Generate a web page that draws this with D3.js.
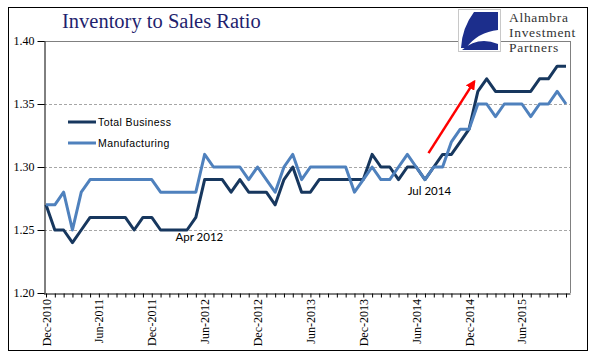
<!DOCTYPE html>
<html><head><meta charset="utf-8">
<script src="https://cdn.jsdelivr.net/npm/d3@7"></script>
<style>body{margin:0;background:#fff}svg{display:block}</style>
</head><body>
<svg id="chart" width="596" height="358"></svg>
<script>
const months = ["Dec-2010","Jan-2011","Feb-2011","Mar-2011","Apr-2011","May-2011","Jun-2011","Jul-2011","Aug-2011","Sep-2011","Oct-2011","Nov-2011",
"Dec-2011","Jan-2012","Feb-2012","Mar-2012","Apr-2012","May-2012","Jun-2012","Jul-2012","Aug-2012","Sep-2012","Oct-2012","Nov-2012",
"Dec-2012","Jan-2013","Feb-2013","Mar-2013","Apr-2013","May-2013","Jun-2013","Jul-2013","Aug-2013","Sep-2013","Oct-2013","Nov-2013",
"Dec-2013","Jan-2014","Feb-2014","Mar-2014","Apr-2014","May-2014","Jun-2014","Jul-2014","Aug-2014","Sep-2014","Oct-2014","Nov-2014",
"Dec-2014","Jan-2015","Feb-2015","Mar-2015","Apr-2015","May-2015","Jun-2015","Jul-2015","Aug-2015","Sep-2015","Oct-2015","Nov-2015"];
const totalBusiness = [1.27,1.25,1.25,1.24,1.25,1.26,1.26,1.26,1.26,1.26,1.25,1.26,
1.26,1.25,1.25,1.25,1.25,1.26,1.29,1.29,1.29,1.28,1.29,1.28,
1.28,1.28,1.27,1.29,1.30,1.28,1.28,1.29,1.29,1.29,1.29,1.29,
1.29,1.31,1.30,1.30,1.29,1.30,1.30,1.29,1.30,1.31,1.31,1.32,
1.33,1.36,1.37,1.36,1.36,1.36,1.36,1.36,1.37,1.37,1.38,1.38];
const manufacturing = [1.27,1.27,1.28,1.25,1.28,1.29,1.29,1.29,1.29,1.29,1.29,1.29,
1.29,1.28,1.28,1.28,1.28,1.28,1.31,1.30,1.30,1.30,1.30,1.29,
1.30,1.29,1.28,1.30,1.31,1.29,1.30,1.30,1.30,1.30,1.30,1.28,
1.29,1.30,1.29,1.29,1.30,1.31,1.30,1.29,1.30,1.30,1.32,1.33,
1.33,1.35,1.35,1.34,1.35,1.35,1.35,1.34,1.35,1.35,1.36,1.35];
const xTickLabels = ["Dec-2010","Jun-2011","Dec-2011","Jun-2012","Dec-2012","Jun-2013","Dec-2013","Jun-2014","Dec-2014","Jun-2015"];
const yTicks = [1.20,1.25,1.30,1.35,1.40];
const seriesNames = ["Total Business","Manufacturing"];
const seriesColors = ["#17375e","#4f81bd"];

const svg = d3.select("#chart");
const plot = {left:44, right:570, top:41, bottom:293};
const x = d3.scaleLinear().domain([0, months.length-1]).range([46, 566]);
const y = d3.scaleLinear().domain([1.20,1.40]).range([plot.bottom, plot.top]);

// outer frame
svg.append("rect").attr("x",8.5).attr("y",7.5).attr("width",579).attr("height",343)
  .attr("fill","none").attr("stroke","#000").attr("stroke-width",1);

// gridlines
svg.append("g").selectAll("line").data(yTicks.filter(v=>v>1.2 && v<1.4)).join("line")
  .attr("x1",plot.left).attr("x2",plot.right)
  .attr("y1",d=>Math.round(y(d))+0.5).attr("y2",d=>Math.round(y(d))+0.5)
  .attr("stroke","#a6a6a6").attr("stroke-dasharray","3,2");
// plot border top/right
svg.append("line").attr("x1",plot.left).attr("x2",plot.right).attr("y1",plot.top+0.5).attr("y2",plot.top+0.5).attr("stroke","#808080");
svg.append("line").attr("x1",plot.right+0.5).attr("x2",plot.right+0.5).attr("y1",plot.top).attr("y2",plot.bottom).attr("stroke","#808080");

// y axis
const yAxis = d3.axisLeft(y).tickValues(yTicks).tickFormat(d3.format(".2f")).tickSize(7).tickSizeOuter(0);
const gy = svg.append("g").attr("transform",`translate(${plot.left+0.5},0)`).call(yAxis);
gy.select(".domain").attr("stroke","#000");
gy.selectAll(".tick line").attr("stroke","#000");
gy.selectAll(".tick text").attr("font-family","Liberation Serif").attr("font-size",12).attr("fill","#000").attr("x",-10);

// x axis
const xAxis = d3.axisBottom(x).tickValues(d3.range(months.length)).tickSize(4).tickSizeOuter(0).tickFormat(()=> "");
const gx = svg.append("g").attr("transform",`translate(0,${plot.bottom+0.5})`).call(xAxis);
gx.select(".domain").attr("d",`M${plot.left},0.5H${plot.right+0.5}`).attr("stroke","#000");
gx.selectAll(".tick line").attr("stroke","#000");
svg.append("g").selectAll("text").data(xTickLabels).join("text")
  .attr("transform",d=>`translate(${x(months.indexOf(d))+4.5},${plot.bottom+6}) rotate(-90)`)
  .attr("text-anchor","end").attr("font-family","Liberation Serif").attr("font-size",12).attr("fill","#000")
  .text(d=>d);

// lines
const line = d3.line().x((d,i)=>x(i)).y(d=>y(d));
[totalBusiness, manufacturing].forEach((s,k)=>{
  svg.append("path").datum(s).attr("d",line).attr("fill","none")
    .attr("stroke",seriesColors[k]).attr("stroke-width",3).attr("stroke-linejoin","round");
});

// legend
const lg = svg.append("g");
seriesNames.forEach((n,k)=>{
  const yy = 122 + k*21;
  lg.append("line").attr("x1",68).attr("x2",96).attr("y1",yy).attr("y2",yy).attr("stroke",seriesColors[k]).attr("stroke-width",3);
  lg.append("text").attr("x",98).attr("y",yy+4).attr("font-family","Liberation Sans").attr("font-size",10.5)
    .attr("letter-spacing",0.4).attr("fill","#000").text(n);
});

// annotations
svg.append("text").attr("x",x(17.4)).attr("y",y(1.2415)).attr("text-anchor","middle")
  .attr("font-family","Lato").attr("font-size",11.5).attr("fill","#000").text("Apr 2012");
svg.append("text").attr("x",x(43.5)).attr("y",y(1.2775)).attr("text-anchor","middle")
  .attr("font-family","Lato").attr("font-size",11.5).attr("fill","#000").text("Jul 2014");
svg.append("defs").append("marker").attr("id","ah").attr("viewBox","0 0 10 10").attr("refX",8).attr("refY",5)
  .attr("markerWidth",4).attr("markerHeight",4).attr("orient","auto")
  .append("path").attr("d","M0,0L10,5L0,10Z").attr("fill","#ff0000");
svg.append("line").attr("x1",x(43.4)).attr("y1",y(1.311)).attr("x2",x(48.6)).attr("y2",y(1.368))
  .attr("stroke","#ff0000").attr("stroke-width",2.5).attr("marker-end","url(#ah)");

// title
svg.append("text").attr("x",62).attr("y",28).attr("font-family","Liberation Serif").attr("font-size",20.5)
  .attr("fill","#1f1f6e").text("Inventory to Sales Ratio");

// logo
const logo = svg.append("g");
logo.append("rect").attr("x",458.5).attr("y",9.5).attr("width",42).attr("height",42).attr("fill","#fff").attr("stroke","#c8c8c8");
logo.append("path").attr("d","M474,12 L498,12 L498,30 Q478,32 466,48 L461,48 Q462,28 474,12 Z").attr("fill","#1c2e8c");
logo.append("path").attr("d","M462,50 Q478,36 498,44 L498,50 Z").attr("fill","#1c2e8c");
["Alhambra","Investment","Partners"].forEach((t,i)=>{
  logo.append("text").attr("x",509).attr("y",22+i*15).attr("font-family","Liberation Serif").attr("font-size",13.5)
    .attr("letter-spacing",0.7).attr("fill","#333").text(t);
});
</script>
</body></html>
